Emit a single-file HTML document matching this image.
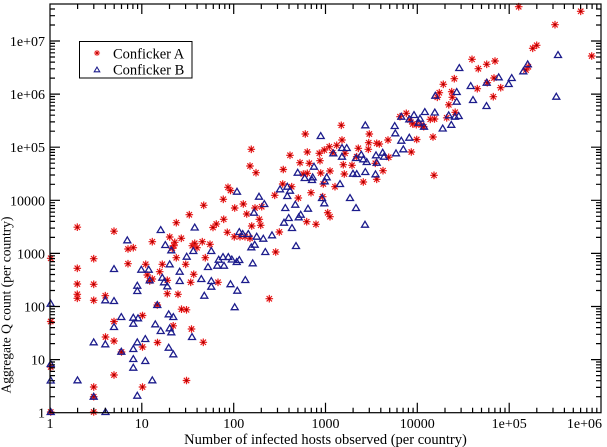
<!DOCTYPE html>
<html><head><meta charset="utf-8"><style>
html,body{margin:0;padding:0;background:#fff;}
svg{display:block;}
text{font-family:"Liberation Serif","DejaVu Serif",serif;fill:#000;}
</style></head><body>
<svg width="607" height="447" viewBox="0 0 607 447" xmlns="http://www.w3.org/2000/svg">
<defs>
<g id="a" stroke="#e81818" stroke-width="1.2" fill="none"><path d="M-3.8,0H3.8M0,-3.8V3.8M-2.7,-2.7L2.7,2.7M-2.7,2.7L2.7,-2.7"/><circle r="1.1" fill="#a00000" stroke="none"/></g>
<path id="b" d="M0,-3.4L3.5,2.5L-3.5,2.5Z" fill="none" stroke="#1c1c8c" stroke-width="1.3" stroke-linejoin="miter"/>
</defs>
<rect x="0" y="0" width="607" height="447" fill="#fff"/>
<!-- stars -->
<g>
<use href="#a" x="77.3" y="227.2"/><use href="#a" x="114" y="231.2"/><use href="#a" x="93.7" y="258.7"/><use href="#a" x="77.3" y="268.3"/><use href="#a" x="77.3" y="284"/><use href="#a" x="93.7" y="284.3"/><use href="#a" x="77.3" y="294.3"/><use href="#a" x="77.3" y="298.3"/><use href="#a" x="93.7" y="300.3"/><use href="#a" x="105.3" y="295.7"/><use href="#a" x="50.7" y="258.3"/><use href="#a" x="50.7" y="321.5"/><use href="#a" x="50.7" y="367"/><use href="#a" x="114" y="321.5"/><use href="#a" x="105.5" y="337"/><use href="#a" x="114" y="341"/><use href="#a" x="121.5" y="352"/><use href="#a" x="114" y="375"/><use href="#a" x="93.7" y="387"/><use href="#a" x="93.7" y="396.7"/><use href="#a" x="93.7" y="412"/><use href="#a" x="50.7" y="412"/><use href="#a" x="142.5" y="315.5"/><use href="#a" x="142.5" y="347"/><use href="#a" x="142.5" y="387"/><use href="#a" x="128" y="249"/><use href="#a" x="133.3" y="247.7"/><use href="#a" x="128" y="263.7"/><use href="#a" x="152.3" y="241.7"/><use href="#a" x="145.7" y="264.3"/><use href="#a" x="147.3" y="275"/><use href="#a" x="152.3" y="279"/><use href="#a" x="149.7" y="281"/><use href="#a" x="162.3" y="264.3"/><use href="#a" x="169.7" y="237"/><use href="#a" x="174.7" y="242.3"/><use href="#a" x="174" y="245.7"/><use href="#a" x="172.3" y="248.3"/><use href="#a" x="181.3" y="238.3"/><use href="#a" x="176.3" y="257.7"/><use href="#a" x="185.7" y="264.3"/><use href="#a" x="167.3" y="280.3"/><use href="#a" x="167.3" y="293.7"/><use href="#a" x="178" y="294.3"/><use href="#a" x="157.3" y="305"/><use href="#a" x="181.5" y="309.2"/><use href="#a" x="186.5" y="309.8"/><use href="#a" x="173.2" y="325.8"/><use href="#a" x="191.5" y="329"/><use href="#a" x="157.5" y="342.5"/><use href="#a" x="203.3" y="342.3"/><use href="#a" x="186.5" y="380.5"/><use href="#a" x="193.7" y="274.3"/><use href="#a" x="190.7" y="282.3"/><use href="#a" x="192.3" y="245.7"/><use href="#a" x="197" y="247.7"/><use href="#a" x="194.7" y="243.3"/><use href="#a" x="202.3" y="241.7"/><use href="#a" x="210" y="244.3"/><use href="#a" x="205.3" y="257.7"/><use href="#a" x="213" y="227.5"/><use href="#a" x="227.3" y="232.3"/><use href="#a" x="218" y="282.3"/><use href="#a" x="159.7" y="271.7"/><use href="#a" x="176.3" y="222.7"/><use href="#a" x="189.3" y="214.7"/><use href="#a" x="203.7" y="205.3"/><use href="#a" x="223.3" y="199.3"/><use href="#a" x="228" y="187.3"/><use href="#a" x="230.5" y="190.5"/><use href="#a" x="234.7" y="208"/><use href="#a" x="223.7" y="219.3"/><use href="#a" x="216.3" y="224"/>
<use href="#a" x="256" y="172.7"/><use href="#a" x="283.3" y="169.5"/><use href="#a" x="303.3" y="174"/><use href="#a" x="307.3" y="173.3"/><use href="#a" x="320.7" y="173"/><use href="#a" x="330" y="171"/><use href="#a" x="344.3" y="174"/><use href="#a" x="363.3" y="182"/><use href="#a" x="376.7" y="179.3"/><use href="#a" x="383" y="170.7"/><use href="#a" x="243.3" y="204"/><use href="#a" x="246.7" y="214"/><use href="#a" x="255" y="208"/><use href="#a" x="261.7" y="206.7"/><use href="#a" x="259.3" y="219.3"/><use href="#a" x="251.7" y="226"/><use href="#a" x="260.7" y="225.3"/><use href="#a" x="234.3" y="236.8"/><use href="#a" x="240" y="236.7"/><use href="#a" x="245" y="236.7"/><use href="#a" x="250" y="238.3"/><use href="#a" x="274.7" y="195.3"/><use href="#a" x="282.7" y="184"/><use href="#a" x="291.7" y="186.7"/><use href="#a" x="298.3" y="198"/><use href="#a" x="311" y="192.7"/><use href="#a" x="323.3" y="184"/><use href="#a" x="322.7" y="196.7"/><use href="#a" x="335" y="186.7"/><use href="#a" x="327.7" y="212.7"/><use href="#a" x="330" y="216.7"/><use href="#a" x="306.7" y="221.7"/><use href="#a" x="316" y="224.3"/><use href="#a" x="279.3" y="232"/><use href="#a" x="275.7" y="252"/><use href="#a" x="269.3" y="298.7"/>
<use href="#a" x="251.3" y="149.3"/><use href="#a" x="250" y="166"/><use href="#a" x="290" y="155.3"/><use href="#a" x="305.3" y="134"/><use href="#a" x="307.3" y="152"/><use href="#a" x="300" y="162.7"/><use href="#a" x="309.3" y="163.3"/><use href="#a" x="319.3" y="153.3"/><use href="#a" x="320" y="160.7"/><use href="#a" x="324.3" y="150"/><use href="#a" x="329.3" y="146.7"/><use href="#a" x="336.7" y="145.3"/><use href="#a" x="332.7" y="152.7"/><use href="#a" x="342" y="140"/><use href="#a" x="341.3" y="125.3"/><use href="#a" x="345" y="153.3"/><use href="#a" x="343.3" y="164.7"/><use href="#a" x="358.3" y="148.3"/><use href="#a" x="356.7" y="156.7"/><use href="#a" x="352" y="165.3"/><use href="#a" x="369.3" y="134"/><use href="#a" x="368.7" y="142.7"/><use href="#a" x="368.3" y="149.3"/><use href="#a" x="376.7" y="143.3"/><use href="#a" x="379.3" y="144"/><use href="#a" x="375.3" y="163.3"/><use href="#a" x="388" y="140"/><use href="#a" x="388.7" y="157.3"/><use href="#a" x="406.3" y="113.3"/><use href="#a" x="410" y="120"/><use href="#a" x="412.7" y="124"/><use href="#a" x="400" y="116.7"/><use href="#a" x="416.7" y="139.5"/><use href="#a" x="411.3" y="152"/>
<use href="#a" x="518.7" y="6.7"/><use href="#a" x="580.7" y="11.3"/><use href="#a" x="555" y="24.7"/><use href="#a" x="591.7" y="56"/><use href="#a" x="532.7" y="48.3"/><use href="#a" x="536.7" y="45.3"/><use href="#a" x="472" y="59.3"/><use href="#a" x="478.3" y="68.7"/><use href="#a" x="486.7" y="64.3"/><use href="#a" x="495" y="61"/><use href="#a" x="454.3" y="78.7"/><use href="#a" x="443.3" y="84.3"/><use href="#a" x="439.3" y="92.7"/><use href="#a" x="437.3" y="97.3"/><use href="#a" x="451.7" y="91.7"/><use href="#a" x="452.3" y="97.3"/><use href="#a" x="448.8" y="104.8"/><use href="#a" x="455.2" y="112.3"/><use href="#a" x="494" y="78"/><use href="#a" x="487.3" y="82.7"/><use href="#a" x="477.3" y="88.7"/><use href="#a" x="500.7" y="87.7"/><use href="#a" x="493.3" y="96.7"/><use href="#a" x="528.3" y="66.7"/><use href="#a" x="526" y="70"/><use href="#a" x="430.3" y="119.3"/><use href="#a" x="434.5" y="119"/><use href="#a" x="416.3" y="124.7"/><use href="#a" x="421.2" y="125"/><use href="#a" x="423.7" y="126.7"/><use href="#a" x="433" y="137"/><use href="#a" x="446.7" y="117.8"/><use href="#a" x="434" y="175.3"/>
</g>
<!-- triangles -->
<g>
<use href="#b" x="160.7" y="230"/><use href="#b" x="194.7" y="227.5"/><use href="#b" x="127.3" y="240.3"/><use href="#b" x="165.3" y="245"/><use href="#b" x="171.3" y="250.3"/><use href="#b" x="114" y="269"/><use href="#b" x="141.3" y="269.7"/><use href="#b" x="148.7" y="269.7"/><use href="#b" x="169.7" y="264.3"/><use href="#b" x="186.7" y="256.7"/><use href="#b" x="179.7" y="271.7"/><use href="#b" x="162.3" y="277.7"/><use href="#b" x="164" y="282.3"/><use href="#b" x="167.3" y="286.3"/><use href="#b" x="179.7" y="281"/><use href="#b" x="201.3" y="279"/><use href="#b" x="193.3" y="251"/><use href="#b" x="211.3" y="251"/><use href="#b" x="218.7" y="259.7"/><use href="#b" x="223" y="257"/><use href="#b" x="228.3" y="257"/><use href="#b" x="231.8" y="259.5"/><use href="#b" x="208" y="267"/><use href="#b" x="217.3" y="265.7"/><use href="#b" x="224" y="265.7"/><use href="#b" x="211.3" y="281"/><use href="#b" x="211.3" y="286.7"/><use href="#b" x="204.3" y="295.7"/><use href="#b" x="230.5" y="284.2"/><use href="#b" x="234.7" y="307.2"/><use href="#b" x="149.7" y="280.3"/><use href="#b" x="137.3" y="285.7"/><use href="#b" x="137.3" y="291"/><use href="#b" x="105.3" y="300.3"/><use href="#b" x="114" y="301"/><use href="#b" x="50.7" y="303.7"/><use href="#b" x="157.3" y="305"/><use href="#b" x="121.3" y="317"/><use href="#b" x="133.3" y="317.7"/><use href="#b" x="138" y="318.3"/><use href="#b" x="133.3" y="323.7"/><use href="#b" x="114" y="327"/><use href="#b" x="155.3" y="324.3"/><use href="#b" x="160.7" y="331"/><use href="#b" x="168.7" y="314.3"/><use href="#b" x="173.3" y="317"/><use href="#b" x="171.3" y="332.3"/><use href="#b" x="169.7" y="328.3"/><use href="#b" x="145.3" y="339"/><use href="#b" x="137.3" y="342.3"/><use href="#b" x="192" y="337"/><use href="#b" x="93.7" y="342.3"/><use href="#b" x="105.3" y="344.3"/><use href="#b" x="121.3" y="351.7"/><use href="#b" x="133.3" y="349"/><use href="#b" x="168.7" y="347.7"/><use href="#b" x="173.3" y="354.3"/><use href="#b" x="133.3" y="359"/><use href="#b" x="145.3" y="361"/><use href="#b" x="133.3" y="367.7"/><use href="#b" x="50.7" y="364"/><use href="#b" x="50.7" y="380.5"/><use href="#b" x="77.5" y="380.3"/><use href="#b" x="152.3" y="380.3"/><use href="#b" x="93.7" y="396.7"/><use href="#b" x="137.3" y="395.7"/><use href="#b" x="105.5" y="412"/><use href="#b" x="50.7" y="412"/>
<use href="#b" x="237" y="191.7"/><use href="#b" x="259" y="196.7"/><use href="#b" x="264.3" y="204"/><use href="#b" x="254" y="212.7"/><use href="#b" x="280" y="189.3"/><use href="#b" x="287.3" y="186.7"/><use href="#b" x="290" y="190.7"/><use href="#b" x="287.3" y="196"/><use href="#b" x="297.7" y="172.7"/><use href="#b" x="304.7" y="178"/><use href="#b" x="312.7" y="177.3"/><use href="#b" x="312" y="180"/><use href="#b" x="326.7" y="177.3"/><use href="#b" x="324.7" y="181.3"/><use href="#b" x="340" y="184"/><use href="#b" x="353" y="173.7"/><use href="#b" x="356.7" y="174"/><use href="#b" x="365.3" y="172"/><use href="#b" x="375.5" y="174.3"/><use href="#b" x="350" y="198"/><use href="#b" x="356" y="208"/><use href="#b" x="365" y="224.7"/><use href="#b" x="322" y="198"/><use href="#b" x="324.3" y="203.3"/><use href="#b" x="295.3" y="204.7"/><use href="#b" x="285.3" y="208"/><use href="#b" x="308" y="208.7"/><use href="#b" x="288.7" y="218"/><use href="#b" x="284" y="222.7"/><use href="#b" x="300.7" y="214.7"/><use href="#b" x="298.7" y="217.3"/><use href="#b" x="292" y="228"/><use href="#b" x="272" y="235.3"/><use href="#b" x="239.3" y="232"/><use href="#b" x="242.7" y="234"/><use href="#b" x="248.3" y="234"/><use href="#b" x="256.7" y="236.7"/><use href="#b" x="263.3" y="238.7"/><use href="#b" x="254.7" y="244.7"/><use href="#b" x="251.3" y="247.3"/><use href="#b" x="265.3" y="252"/><use href="#b" x="296" y="246"/><use href="#b" x="239.3" y="260"/><use href="#b" x="236.7" y="262"/><use href="#b" x="252.7" y="263.3"/><use href="#b" x="245.3" y="280"/><use href="#b" x="237.3" y="290.7"/>
<use href="#b" x="320.7" y="136"/><use href="#b" x="365.3" y="125.3"/><use href="#b" x="394.7" y="126"/><use href="#b" x="395.3" y="133.3"/><use href="#b" x="401.3" y="140.7"/><use href="#b" x="409.3" y="137.7"/><use href="#b" x="403.3" y="149.3"/><use href="#b" x="396" y="153.3"/><use href="#b" x="414" y="115"/><use href="#b" x="401.3" y="116.7"/><use href="#b" x="420" y="118.7"/><use href="#b" x="342" y="148"/><use href="#b" x="346.7" y="148"/><use href="#b" x="333.3" y="153.3"/><use href="#b" x="342" y="156.7"/><use href="#b" x="356" y="158"/><use href="#b" x="361.3" y="154.7"/><use href="#b" x="363.3" y="159.3"/><use href="#b" x="366.7" y="162"/><use href="#b" x="376" y="155.3"/><use href="#b" x="382.7" y="152.7"/><use href="#b" x="384" y="156.7"/><use href="#b" x="314" y="166.7"/><use href="#b" x="376.7" y="162.7"/>
<use href="#b" x="459.3" y="68"/><use href="#b" x="558" y="55"/><use href="#b" x="527.7" y="64.3"/><use href="#b" x="523.3" y="71.3"/><use href="#b" x="470.7" y="86"/><use href="#b" x="486.7" y="82.7"/><use href="#b" x="498.7" y="77.3"/><use href="#b" x="511.7" y="78"/><use href="#b" x="508.7" y="84"/><use href="#b" x="435.3" y="95.7"/><use href="#b" x="456.7" y="92"/><use href="#b" x="456.7" y="101.7"/><use href="#b" x="473" y="100"/><use href="#b" x="486.5" y="106"/><use href="#b" x="556.3" y="96.7"/><use href="#b" x="424.8" y="112"/><use href="#b" x="434.8" y="112.5"/><use href="#b" x="448.7" y="115.3"/><use href="#b" x="455" y="116.7"/><use href="#b" x="458.7" y="116"/><use href="#b" x="409.3" y="119.3"/><use href="#b" x="442.7" y="128.5"/><use href="#b" x="451.3" y="124.8"/><use href="#b" x="424" y="126.7"/><use href="#b" x="418.7" y="122.7"/>
</g>
<!-- frame and ticks -->
<g fill="none" stroke="#000" stroke-width="1.2">
<rect x="50" y="4" width="551" height="408.7"/>
<path d="M141.8,412.7v-10M233.7,412.7v-10M325.5,412.7v-10M417.3,412.7v-10M509.2,412.7v-10M141.8,4v10M233.7,4v10M325.5,4v10M417.3,4v10M509.2,4v10"/>
<path d="M77.6,412.7v-5M93.8,412.7v-5M105.3,412.7v-5M114.2,412.7v-5M121.5,412.7v-5M127.6,412.7v-5M132.9,412.7v-5M137.6,412.7v-5M169.5,412.7v-5M185.6,412.7v-5M197.1,412.7v-5M206,412.7v-5M213.3,412.7v-5M219.4,412.7v-5M224.8,412.7v-5M229.5,412.7v-5M261.3,412.7v-5M277.5,412.7v-5M289,412.7v-5M297.9,412.7v-5M305.1,412.7v-5M311.3,412.7v-5M316.6,412.7v-5M321.3,412.7v-5M353.1,412.7v-5M369.3,412.7v-5M380.8,412.7v-5M389.7,412.7v-5M397,412.7v-5M403.1,412.7v-5M408.4,412.7v-5M413.1,412.7v-5M445,412.7v-5M461.1,412.7v-5M472.6,412.7v-5M481.5,412.7v-5M488.8,412.7v-5M494.9,412.7v-5M500.3,412.7v-5M505,412.7v-5M536.8,412.7v-5M553,412.7v-5M564.4,412.7v-5M573.3,412.7v-5M580.6,412.7v-5M586.8,412.7v-5M592.1,412.7v-5M596.8,412.7v-5"/>
<path d="M77.6,4v5M93.8,4v5M105.3,4v5M114.2,4v5M121.5,4v5M127.6,4v5M132.9,4v5M137.6,4v5M169.5,4v5M185.6,4v5M197.1,4v5M206,4v5M213.3,4v5M219.4,4v5M224.8,4v5M229.5,4v5M261.3,4v5M277.5,4v5M289,4v5M297.9,4v5M305.1,4v5M311.3,4v5M316.6,4v5M321.3,4v5M353.1,4v5M369.3,4v5M380.8,4v5M389.7,4v5M397,4v5M403.1,4v5M408.4,4v5M413.1,4v5M445,4v5M461.1,4v5M472.6,4v5M481.5,4v5M488.8,4v5M494.9,4v5M500.3,4v5M505,4v5M536.8,4v5M553,4v5M564.4,4v5M573.3,4v5M580.6,4v5M586.8,4v5M592.1,4v5M596.8,4v5"/>
<path d="M50,359.6h10M50,306.5h10M50,253.4h10M50,200.3h10M50,147.2h10M50,94.1h10M50,41h10M601,359.6h-10M601,306.5h-10M601,253.4h-10M601,200.3h-10M601,147.2h-10M601,94.1h-10M601,41h-10"/>
<path d="M50,396.7h5M50,387.4h5M50,380.7h5M50,375.6h5M50,371.4h5M50,367.8h5M50,364.8h5M50,362h5M50,343.6h5M50,334.3h5M50,327.6h5M50,322.5h5M50,318.3h5M50,314.7h5M50,311.7h5M50,308.9h5M50,290.5h5M50,281.2h5M50,274.5h5M50,269.4h5M50,265.2h5M50,261.6h5M50,258.6h5M50,255.8h5M50,237.4h5M50,228.1h5M50,221.4h5M50,216.3h5M50,212.1h5M50,208.5h5M50,205.5h5M50,202.7h5M50,184.3h5M50,175h5M50,168.3h5M50,163.2h5M50,159h5M50,155.4h5M50,152.4h5M50,149.6h5M50,131.2h5M50,121.9h5M50,115.2h5M50,110.1h5M50,105.9h5M50,102.3h5M50,99.3h5M50,96.5h5M50,78.1h5M50,68.8h5M50,62.1h5M50,57h5M50,52.8h5M50,49.2h5M50,46.2h5M50,43.4h5M50,25h5M50,15.7h5M50,9h5"/>
<path d="M601,396.7h-5M601,387.4h-5M601,380.7h-5M601,375.6h-5M601,371.4h-5M601,367.8h-5M601,364.8h-5M601,362h-5M601,343.6h-5M601,334.3h-5M601,327.6h-5M601,322.5h-5M601,318.3h-5M601,314.7h-5M601,311.7h-5M601,308.9h-5M601,290.5h-5M601,281.2h-5M601,274.5h-5M601,269.4h-5M601,265.2h-5M601,261.6h-5M601,258.6h-5M601,255.8h-5M601,237.4h-5M601,228.1h-5M601,221.4h-5M601,216.3h-5M601,212.1h-5M601,208.5h-5M601,205.5h-5M601,202.7h-5M601,184.3h-5M601,175h-5M601,168.3h-5M601,163.2h-5M601,159h-5M601,155.4h-5M601,152.4h-5M601,149.6h-5M601,131.2h-5M601,121.9h-5M601,115.2h-5M601,110.1h-5M601,105.9h-5M601,102.3h-5M601,99.3h-5M601,96.5h-5M601,78.1h-5M601,68.8h-5M601,62.1h-5M601,57h-5M601,52.8h-5M601,49.2h-5M601,46.2h-5M601,43.4h-5M601,25h-5M601,15.7h-5M601,9h-5"/>
</g>
<!-- y tick labels -->
<g font-size="14" text-anchor="end">
<text x="45" y="417.7">1</text>
<text x="45" y="364.6">10</text>
<text x="45" y="311.5">100</text>
<text x="45" y="258.4">1000</text>
<text x="45" y="205.3">10000</text>
<text x="45" y="152.2">1e+05</text>
<text x="45" y="99.1">1e+06</text>
<text x="45" y="46">1e+07</text>
</g>
<!-- x tick labels -->
<g font-size="14" text-anchor="middle">
<text x="50" y="428">1</text>
<text x="141.8" y="428">10</text>
<text x="233.7" y="428">100</text>
<text x="325.5" y="428">1000</text>
<text x="417.3" y="428">10000</text>
<text x="509.2" y="428">1e+05</text>
<text x="602" y="428" text-anchor="end">1e+06</text>
</g>
<text x="325.5" y="444" font-size="14.5" text-anchor="middle">Number of infected hosts observed (per country)</text>
<text transform="translate(10.5,305) rotate(-90)" font-size="13.5" text-anchor="middle">Aggregate Q count (per country)</text>
<!-- legend -->
<rect x="79.5" y="41.5" width="112.5" height="36.5" fill="#fff" stroke="#000" stroke-width="1"/>
<g transform="translate(97,53) scale(0.8)"><use href="#a"/></g>
<g transform="translate(97,69.8) scale(0.8)"><use href="#b"/></g>
<text x="113" y="58.3" font-size="14.5">Conficker A</text>
<text x="113" y="74.3" font-size="14.5">Conficker B</text>
</svg>
</body></html>
